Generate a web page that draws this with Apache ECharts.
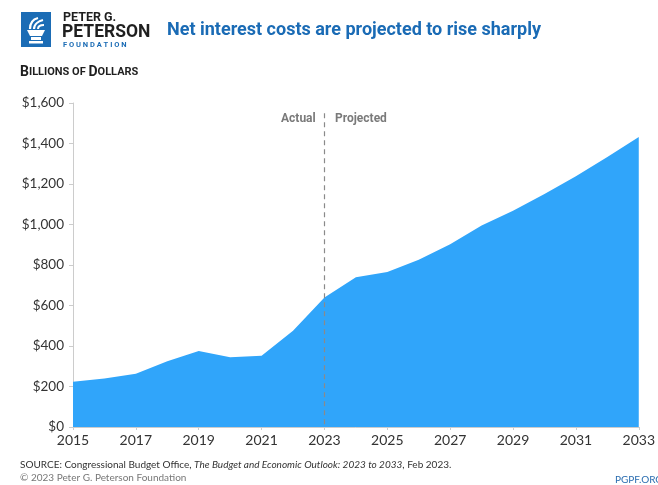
<!DOCTYPE html>
<html><head><meta charset="utf-8">
<script src="https://cdn.jsdelivr.net/npm/echarts@6/dist/echarts.min.js"></script>
<style>html,body{margin:0;padding:0;background:#fff}#c{width:658px;height:485px}</style>
</head><body><div id="c"></div>
<script>
const years = ['2015','2016','2017','2018','2019','2020','2021','2022','2023','2024','2025','2026','2027','2028','2029','2030','2031','2032','2033'];
const netInterest = [223,240,263,325,375,345,352,475,640,739,765,826,902,995,1068,1151,1238,1333,1432];
const yTicks = [0,200,400,600,800,1000,1200,1400,1600];
const splitYear = '2023';

const chart = echarts.init(document.getElementById('c'), null, {renderer:'canvas'});
const narrow = 'Roboto, sans-serif';
const body = 'Lato, "Open Sans", sans-serif';
chart.setOption({
  animation:false,
  grid:{left:73,right:16,top:103,bottom:58},
  xAxis:{type:'category',data:years,boundaryGap:false,
    axisLine:{show:true,lineStyle:{color:'#cccccc'}},
    axisTick:{show:true,interval:1,length:3,lineStyle:{color:'#cccccc'}},
    axisLabel:{interval:1,color:'#333',fontSize:14,fontFamily:body,margin:6}},
  yAxis:{type:'value',min:0,max:1600,interval:200,
    axisLine:{show:true,lineStyle:{color:'#cccccc'}},
    axisTick:{show:true,length:4,lineStyle:{color:'#cccccc'}},
    splitLine:{show:false},
    axisLabel:{color:'#333',fontSize:13.5,fontFamily:body,margin:9,
      formatter:v=>'$'+v.toLocaleString('en-US')}},
  series:[{type:'line',data:netInterest,symbol:'none',
    lineStyle:{width:0},areaStyle:{color:'#30a5fa',opacity:1},
    markLine:{silent:true,symbol:'none',label:{show:false},
      lineStyle:{color:'#8a8a8a',type:[5,4],width:1.2},
      data:[[{coord:[splitYear,1550]},{coord:[splitYear,0]}]]}}],
  graphic:[
    {type:'rect',shape:{x:21,y:12,width:30,height:35},style:{fill:'#1b6cb5'}},
    {type:'polygon',shape:{points:[[27,30],[45,30],[42,36],[30,36]]},style:{fill:'#fff'}},
    {type:'rect',shape:{x:31,y:37,width:10,height:3},style:{fill:'#fff'}},
    {type:'rect',shape:{x:29,y:41,width:14,height:2.5},style:{fill:'#fff'}},
    {type:'bezierCurve',shape:{x1:30,y1:29,x2:38,y2:18,cpx1:30,cpy1:22,cpx2:34,cpy2:19},style:{stroke:'#fff',lineWidth:2.2,fill:null}},
    {type:'bezierCurve',shape:{x1:34,y1:29,x2:43,y2:20,cpx1:34,cpy1:24,cpx2:39,cpy2:21},style:{stroke:'#fff',lineWidth:2.2,fill:null}},
    {type:'bezierCurve',shape:{x1:38,y1:29,x2:44,y2:25,cpx1:38,cpy1:26,cpx2:41,cpy2:25},style:{stroke:'#fff',lineWidth:2,fill:null}},
    {type:'text',left:63,top:11,style:{text:'PETER G.',font:'bold 12.5px '+narrow,fill:'#1f1f1f'}},
    {type:'text',left:62,top:24,style:{text:'PETERSON',font:'bold 17.5px '+narrow,fill:'#1f1f1f'}},
    {type:'text',left:63,top:41,style:{text:'F O U N D A T I O N',font:'bold 7.5px '+narrow,fill:'#1b6cb5'}},
    {type:'text',left:167,top:21,style:{text:'Net interest costs are projected to rise sharply',font:'bold 18px '+narrow,fill:'#1a6bb5'}},
    {type:'text',left:20,top:65,style:{rich:{a:{font:'bold 14px '+narrow,fill:'#1f1f1f'},b:{font:'bold 11px '+narrow,fill:'#1f1f1f'}},
      text:'{a|B}{b|ILLIONS OF }{a|D}{b|OLLARS}'}},
    {type:'text',left:281,top:113,style:{text:'Actual',font:'bold 12px '+narrow,fill:'#7a7a7a'}},
    {type:'text',left:335,top:113,style:{text:'Projected',font:'bold 12px '+narrow,fill:'#7a7a7a'}},
    {type:'text',left:510,top:301,style:{text:'10-Year Interest\nCosts: $10.5 trillion',textAlign:'center',lineHeight:17,font:'bold 12.5px '+narrow,fill:'#fff'}},
    {type:'text',left:20,top:460,style:{rich:{n:{font:'10px '+body,fill:'#333'},i:{font:'italic 10px '+body,fill:'#333'}},
      text:'{n|SOURCE: Congressional Budget Office, }{i|The Budget and Economic Outlook: 2023 to 2033}{n|, Feb 2023.}'}},
    {type:'text',left:20,top:473,style:{text:'© 2023 Peter G. Peterson Foundation',font:'10px '+body,fill:'#777'}},
    {type:'text',left:615,top:475,style:{text:'PGPF.ORG',font:'10px '+body,fill:'#2a6db0'}}
  ]
});
</script></body></html>
